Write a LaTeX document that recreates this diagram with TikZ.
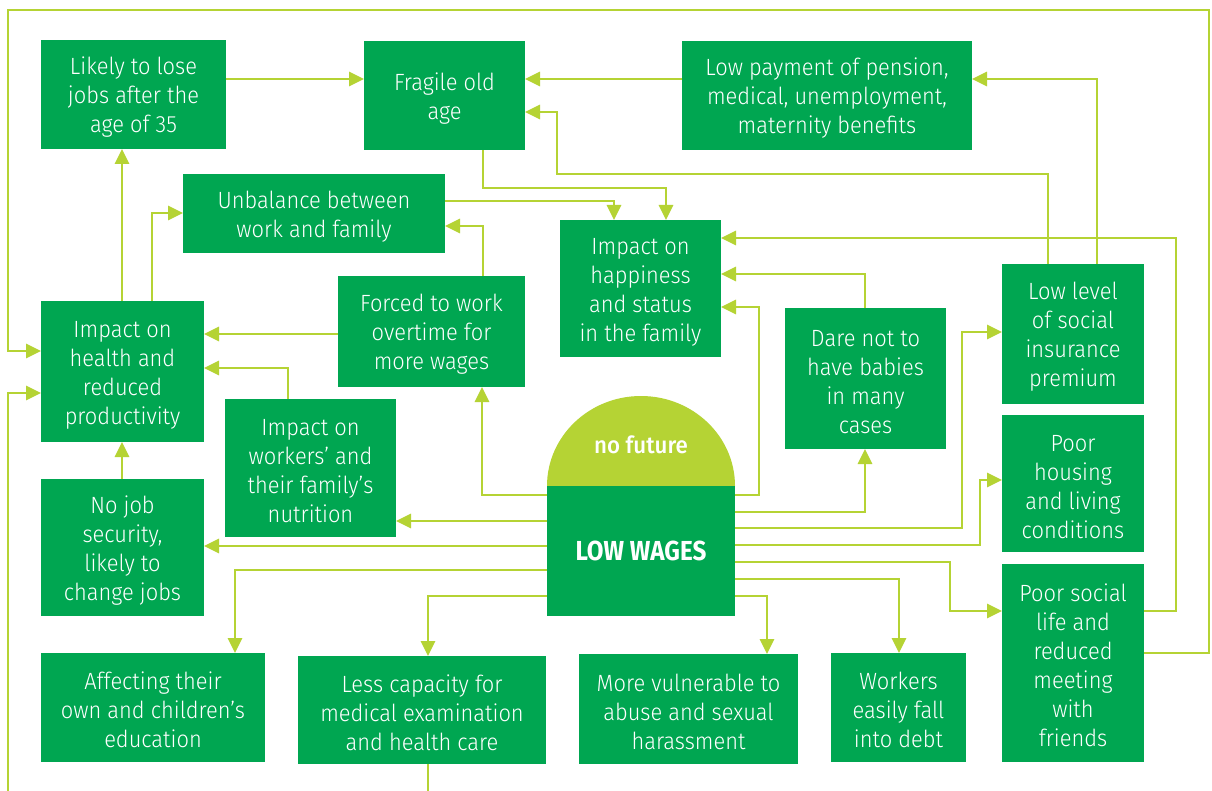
\documentclass[tikz,border=0pt]{standalone}
\usepackage{fontspec}
\IfFontExistsTF{Fira Sans Light}
  {\setmainfont{Fira Sans Light}[FakeStretch=0.93]}
  {\setmainfont{Fira Sans}[FakeStretch=0.93]}
\newfontfamily\wagesfont{Fira Sans}[FakeStretch=0.88]
\IfFontExistsTF{Fira Sans Medium}
  {\newfontfamily\futurefont{Fira Sans Medium}[FakeStretch=0.95]}
  {\newfontfamily\futurefont{Fira Sans}[FakeStretch=0.95]}
\usetikzlibrary{arrows.meta}
\definecolor{boxgreen}{RGB}{0,166,81}
\definecolor{lime}{RGB}{181,211,52}
\newcommand\myst{\rule{0pt}{23pt}}
\begin{document}
\begin{tikzpicture}[x=1pt,y=-1pt,
  box/.style={fill=boxgreen, text=white, inner sep=0pt, outer sep=0pt, align=center,
    font=\fontsize{23.5}{29}\selectfont},
  conn/.style={draw=lime, line width=2.8pt, -{Triangle[length=15pt,width=14pt]}},
  plain/.style={draw=lime, line width=2.8pt}]
\useasboundingbox (0,0) rectangle (1212,791);
\fill[white] (0,0) rectangle (1212,791);

% boxes
\node[box, minimum width=185pt, minimum height=109pt] (likely) at (133.5,94.5) {\myst Likely to lose\\jobs after the\\age of 35};
\node[box, minimum width=161pt, minimum height=109pt] (fragile) at (444.5,95.5) {\myst Fragile old\\age};
\node[box, minimum width=290pt, minimum height=109pt] (lowpay) at (827,95.5) {\myst Low payment of pension,\\medical, unemployment,\\maternity benefits};
\node[box, minimum width=262pt, minimum height=79pt] (unbal) at (314,213.5) {\myst Unbalance between\\work and family};
\node[box, minimum width=161pt, minimum height=137pt] (happy) at (640.5,288.5) {\myst Impact on\\happiness\\and status\\in the family};
\node[box, minimum width=187pt, minimum height=111pt] (forced) at (431.5,331.5) {\myst Forced to work\\overtime for\\more wages};
\node[box, minimum width=142pt, minimum height=140pt] (lowlevel) at (1073,334) {\myst Low level\\of social\\insurance\\premium};
\node[box, minimum width=161pt, minimum height=141pt] (dare) at (865.5,378.5) {\myst Dare not to\\have babies\\in many\\cases};
\node[box, minimum width=163pt, minimum height=141pt] (health) at (122.5,371.5) {\myst Impact on\\health and\\reduced\\productivity};
\node[box, minimum width=171pt, minimum height=138pt] (workers) at (310.5,468) {\myst Impact on\\workers’ and\\their family’s\\nutrition};
\node[box, minimum width=163pt, minimum height=137pt] (nojob) at (122.5,547.5) {\myst No job\\security,\\likely to\\change jobs};
\node[box, minimum width=142pt, minimum height=137pt] (housing) at (1073,483.5) {\myst Poor\\housing\\and living\\conditions};
\node[box, minimum width=142pt, minimum height=198pt] (social) at (1073,663) {\myst Poor social\\life and\\reduced\\meeting\\with\\friends};
\node[box, minimum width=224pt, minimum height=109pt] (affect) at (153,707.5) {\myst Affecting their\\own and children’s\\education};
\node[box, minimum width=248pt, minimum height=108pt] (less) at (422,710) {\myst Less capacity for\\medical examination\\and health care};
\node[box, minimum width=219pt, minimum height=110pt] (vuln) at (688.5,709) {\myst More vulnerable to\\abuse and sexual\\harassment};
\node[box, minimum width=135pt, minimum height=109pt] (debt) at (898.5,707.5) {\myst Workers\\easily fall\\into debt};

% central node
\fill[lime] (547,486) arc[start angle=180, end angle=0, x radius=94pt, y radius=90pt] -- cycle;
\node[text=white, font=\futurefont\fontsize{23.5}{29}\selectfont] (future) at (641,445) {no future};
\node[box, minimum width=188pt, minimum height=130pt, font=\wagesfont\bfseries\fontsize{27.5}{32}\selectfont] (wages) at (641,551) {LOW WAGES};

% connectors
\draw[conn] (likely.east |- 0,79) -- (fragile.west |- 0,79);
\draw[conn] (lowpay.west |- 0,79) -- (fragile.east |- 0,79);
\draw[conn] (lowlevel.north -| 1048,0) -- (1048,174) -- (557,174) -- (557,112) -- (fragile.east |- 0,112);
\draw[conn] (lowlevel.north -| 1097,0) -- (1097,79) -- (lowpay.east |- 0,79);
\draw[conn] (fragile.south -| 483,0) -- (483,188) -- (666,188) -- (happy.north -| 666,0);
\draw[conn] (unbal.east |- 0,201) -- (614,201) -- (happy.north -| 614,0);
\draw[conn] (social.east |- 0,611) -- (1176,611) -- (1176,238) -- (happy.east |- 0,238);
\draw[conn] (dare.north -| 865,0) -- (865,274) -- (happy.east |- 0,274);
\draw[conn] (wages.east |- 0,495) -- (759,495) -- (759,307) -- (happy.east |- 0,307);
\draw[conn] (health.north -| 122,0) -- (likely.south -| 122,0);
\draw[conn] (health.north -| 152,0) -- (152,213) -- (unbal.west |- 0,213);
\draw[conn] (forced.north -| 483,0) -- (483,226) -- (unbal.east |- 0,226);
\draw[conn] (forced.west |- 0,334) -- (health.east |- 0,334);
\draw[conn] (workers.north -| 288,0) -- (288,368) -- (health.east |- 0,368);
\draw[conn] (wages.west |- 0,495) -- (482,495) -- (forced.south -| 482,0);
\draw[conn] (wages.west |- 0,521) -- (workers.east |- 0,521);
\draw[conn] (wages.west |- 0,546) -- (nojob.east |- 0,546);
\draw[conn] (nojob.north -| 122,0) -- (health.south -| 122,0);
\draw[conn] (wages.west |- 0,570) -- (235,570) -- (affect.north -| 235,0);
\draw[conn] (wages.west |- 0,596) -- (428,596) -- (less.north -| 428,0);
\draw[conn] (wages.east |- 0,512) -- (865,512) -- (dare.south -| 865,0);
\draw[conn] (wages.east |- 0,528) -- (962,528) -- (962,332) -- (lowlevel.west |- 0,332);
\draw[conn] (wages.east |- 0,545) -- (980,545) -- (980,480) -- (housing.west |- 0,480);
\draw[conn] (wages.east |- 0,562) -- (950,562) -- (950,611) -- (social.west |- 0,611);
\draw[conn] (wages.east |- 0,579) -- (899,579) -- (debt.north -| 899,0);
\draw[conn] (wages.east |- 0,596) -- (767,596) -- (vuln.north -| 767,0);
\draw[conn] (social.east |- 0,653) -- (1209,653) -- (1209,10) -- (8,10) -- (8,351) -- (health.west |- 0,351);
\coordinate (loopin) at (8,792);
\coordinate (lessout) at (428,792);
\draw[conn] (loopin) -- (8,393) -- (health.west |- 0,393);
\draw[plain] (less.south -| 428,0) -- (lessout);
\end{tikzpicture}
\end{document}
